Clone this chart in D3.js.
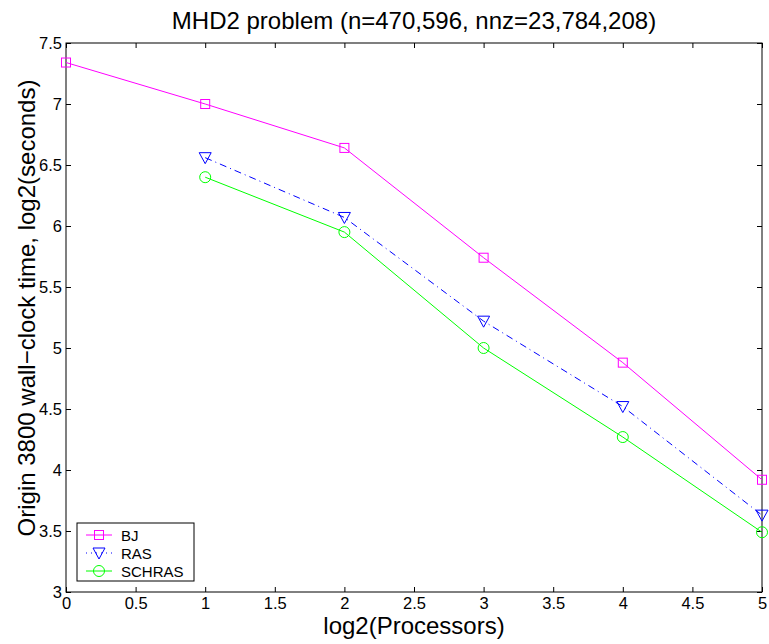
<!DOCTYPE html>
<html><head><meta charset="utf-8">
<script src="https://cdn.jsdelivr.net/npm/d3@7"></script>
<style>body{margin:0;background:#fff}text{font-family:"Liberation Sans",Arial,Helvetica,sans-serif}</style>
</head><body>
<svg id="c" width="769" height="644"></svg>
<script>
const procs = [0, 1, 2, 3, 4, 5];
const bj = [7.34, 7.0, 6.64, 5.74, 4.88, 3.92];
const rasX = [1, 2, 3, 4, 5];
const ras = [6.56, 6.07, 5.22, 4.52, 3.63];
const schras = [6.40, 5.95, 5.0, 4.27, 3.49];
const xTicks = [0, 0.5, 1, 1.5, 2, 2.5, 3, 3.5, 4, 4.5, 5];
const yTicks = [3, 3.5, 4, 4.5, 5, 5.5, 6, 6.5, 7, 7.5];
const seriesNames = ["BJ", "RAS", "SCHRAS"];

const svg = d3.select("#c");
const L = 66, R = 762, T = 43, B = 592;
const x = d3.scaleLinear().domain([0, 5]).range([L, R]);
const y = d3.scaleLinear().domain([3, 7.5]).range([B, T]);

svg.append("rect").attr("x", L).attr("y", T).attr("width", R - L).attr("height", B - T)
  .attr("fill", "#fff").attr("stroke", "#000").attr("stroke-width", 1);

const tl = 5;
const fmt = d => String(d);
const gb = svg.append("g").attr("transform", `translate(0,${B})`)
  .call(d3.axisBottom(x).tickValues(xTicks).tickSizeInner(-tl).tickSizeOuter(0).tickPadding(5).tickFormat(fmt));
const gt = svg.append("g").attr("transform", `translate(0,${T})`)
  .call(d3.axisTop(x).tickValues(xTicks).tickSizeInner(-tl).tickSizeOuter(0).tickFormat(""));
const gl = svg.append("g").attr("transform", `translate(${L},0)`)
  .call(d3.axisLeft(y).tickValues(yTicks).tickSizeInner(-tl).tickSizeOuter(0).tickPadding(4).tickFormat(fmt));
const gr = svg.append("g").attr("transform", `translate(${R},0)`)
  .call(d3.axisRight(y).tickValues(yTicks).tickSizeInner(-tl).tickSizeOuter(0).tickFormat(""));
[gb, gt, gl, gr].forEach(g => {
  g.select(".domain").remove();
  g.selectAll("line").attr("stroke", "#000");
  g.selectAll("text").attr("font-size", 16.5).attr("fill", "#000")
    .attr("font-family", '"Liberation Sans",Arial,sans-serif');
});

const line = d3.line().x(d => x(d[0])).y(d => y(d[1]));
const bjD = procs.map((p, i) => [p, bj[i]]);
const rasD = rasX.map((p, i) => [p, ras[i]]);
const schD = rasX.map((p, i) => [p, schras[i]]);

function drawMarker(g, type, cx, cy, color) {
  if (type === "sq") g.append("rect").attr("x", cx - 4.5).attr("y", cy - 4.5).attr("width", 9).attr("height", 9)
    .attr("fill", "none").attr("stroke", color).attr("stroke-width", 1);
  else if (type === "tri") g.append("path")
    .attr("d", `M${cx - 6},${cy - 5}L${cx + 6},${cy - 5}L${cx},${cy + 6}Z`)
    .attr("fill", "none").attr("stroke", color).attr("stroke-width", 1);
  else g.append("circle").attr("cx", cx).attr("cy", cy).attr("r", 5.5)
    .attr("fill", "none").attr("stroke", color).attr("stroke-width", 1);
}

const series = [
  {name: seriesNames[0], data: bjD, color: "#ff00ff", dash: null, m: "sq"},
  {name: seriesNames[1], data: rasD, color: "#0000ff", dash: "7,4,1,4", m: "tri"},
  {name: seriesNames[2], data: schD, color: "#00ff00", dash: null, m: "circ"}
];
series.forEach(s => {
  svg.append("path").datum(s.data).attr("d", line).attr("fill", "none")
    .attr("stroke", s.color).attr("stroke-width", 1).attr("stroke-dasharray", s.dash);
  const g = svg.append("g");
  s.data.forEach(d => drawMarker(g, s.m, x(d[0]), y(d[1]), s.color));
});

const lg = svg.append("g");
lg.append("rect").attr("x", 77).attr("y", 523).attr("width", 117).attr("height", 58)
  .attr("fill", "#fff").attr("stroke", "#000").attr("stroke-width", 1);
series.forEach((s, i) => {
  const yy = 535 + i * 18;
  lg.append("line").attr("x1", 86).attr("x2", 112).attr("y1", yy).attr("y2", yy)
    .attr("stroke", s.color).attr("stroke-width", 1).attr("stroke-dasharray", s.dash ? "1,4" : null);
  drawMarker(lg, s.m, 99, yy, s.color);
  lg.append("text").attr("x", 121).attr("y", yy + 5.5).attr("font-size", 15).text(s.name);
});

svg.append("text").attr("x", 414).attr("y", 29).attr("text-anchor", "middle").attr("font-size", 24)
  .text("MHD2 problem (n=470,596, nnz=23,784,208)");
svg.append("text").attr("x", 414).attr("y", 634).attr("text-anchor", "middle").attr("font-size", 24)
  .text("log2(Processors)");
svg.append("text").attr("transform", "translate(35,308) rotate(-90)").attr("text-anchor", "middle").attr("font-size", 24)
  .text("Origin 3800 wall\u2212clock time, log2(seconds)");
</script>
</body></html>
